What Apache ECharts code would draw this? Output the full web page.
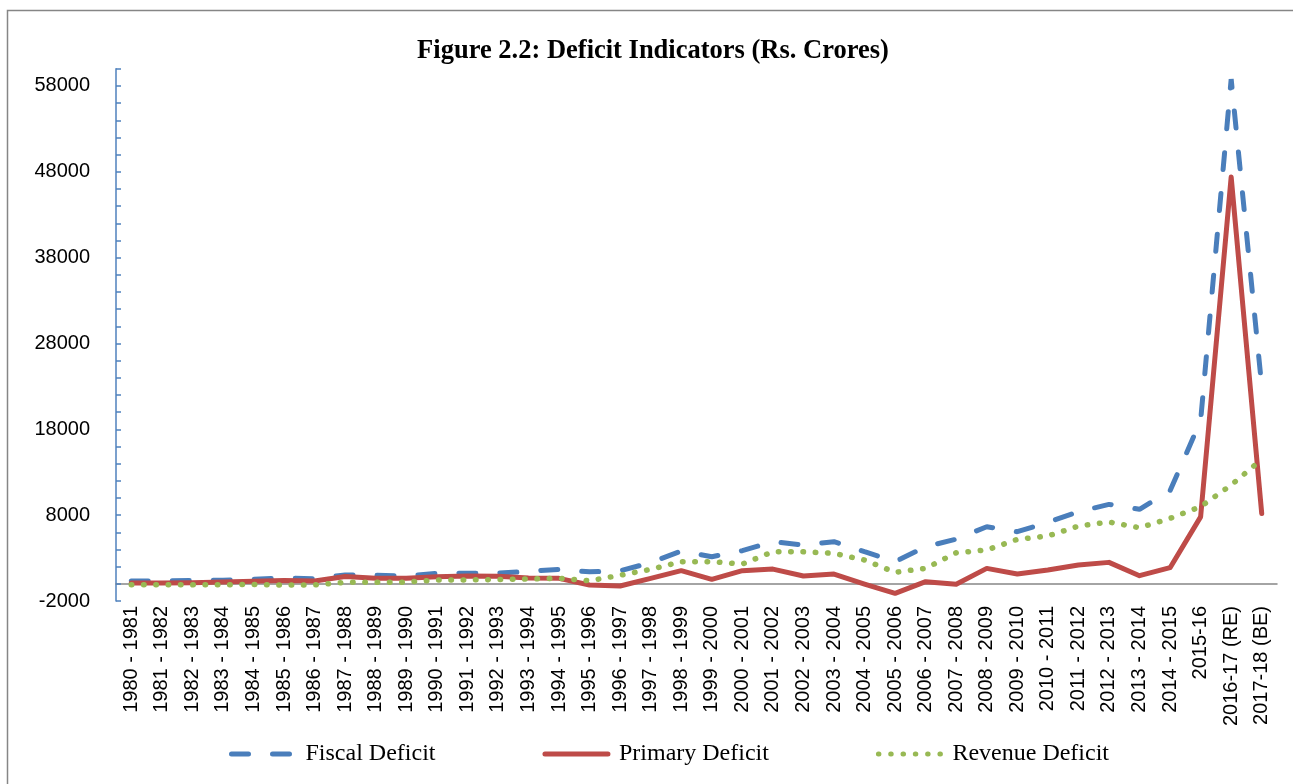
<!DOCTYPE html>
<html><head><meta charset="utf-8">
<script src="https://cdn.jsdelivr.net/npm/echarts@6/dist/echarts.min.js"></script>
<style>html,body{margin:0;padding:0;background:#fff}#c{width:1293px;height:784px}</style>
</head><body><div id="c"></div>
<script>
const categories = ['1980 - 1981','1981 - 1982','1982 - 1983','1983 - 1984','1984 - 1985','1985 - 1986','1986 - 1987','1987 - 1988','1988 - 1989','1989 - 1990','1990 - 1991','1991 - 1992','1992 - 1993','1993 - 1994','1994 - 1995','1995 - 1996','1996 - 1997','1997 - 1998','1998 - 1999','1999 - 2000','2000 - 2001','2001 - 2002','2002 - 2003','2003 - 2004','2004 - 2005','2005 - 2006','2006 - 2007','2007 - 2008','2008 - 2009','2009 - 2010','2010 - 2011','2011 - 2012','2012 - 2013','2013 - 2014','2014 - 2015','2015-16','2016-17 (RE)','2017-18 (BE)'];
const fiscalDeficit = [330,350,400,420,520,670,600,1030,1000,920,1220,1230,1250,1450,1690,1400,1530,2460,3820,3160,3860,4910,4520,4910,3740,2580,4330,5200,6650,6070,7160,8400,9260,8680,10850,19000,58800,23000];
const primaryDeficit = [100,100,120,200,290,400,330,850,640,660,830,900,880,680,640,-140,-250,640,1530,520,1530,1720,910,1140,-20,-1110,250,-50,1800,1140,1610,2190,2500,950,1880,7800,47400,8200];
const revenueDeficit = [-100,-100,-120,-100,-80,-150,-120,170,170,200,440,460,500,560,640,360,1000,1690,2580,2580,2300,3740,3740,3550,2770,1340,1800,3620,3940,5180,5570,6730,7200,6540,7630,8990,11510,14500];
const yTickLabels = [-2000,8000,18000,28000,38000,48000,58000];
const yTickMarks = [-2000,0,2000,4000,6000,8000,10000,12000,14000,16000,18000,20000,22000,24000,26000,28000,30000,32000,34000,36000,38000,40000,42000,44000,46000,48000,50000,52000,54000,56000,58000,60000];

const chart = echarts.init(document.getElementById('c'));
chart.setOption({
  animation: false,
  backgroundColor: '#fff',
  graphic: [{type:'rect', shape:{x:7.5,y:10.5,width:1300,height:800}, style:{fill:'none',stroke:'#868686',lineWidth:1.5}, silent:true}],
  title: {text:'Figure 2.2: Deficit Indicators (Rs. Crores)', left:648, textAlign:'center', top:33,
    textStyle:{fontFamily:'Liberation Serif', fontWeight:'bold', fontSize:26.5, color:'#000'}},
  grid: {left:116, right:16, top:68.8, bottom:183, containLabel:false},
  xAxis: [
    {type:'category', data:categories, boundaryGap:true, position:'bottom',
     axisLine:{show:false, onZero:false}, axisTick:{show:false},
     axisLabel:{rotate:90, interval:0, fontSize:20, fontFamily:'Liberation Sans', color:'#000', margin:5}},
    {type:'category', data:categories, boundaryGap:true, position:'bottom',
     axisLine:{show:true, onZero:true, lineStyle:{color:'#868686', width:1.5}}, axisTick:{show:false}, axisLabel:{show:false}}
  ],
  yAxis: {type:'value', min:-2000, max:60000,
    axisLine:{show:true, lineStyle:{color:'#4F81BD', width:1.5}},
    axisTick:{show:true, inside:true, length:5, customValues:yTickMarks, lineStyle:{color:'#4F81BD', width:1.5}},
    axisLabel:{customValues:yTickLabels, fontSize:20, fontFamily:'Liberation Sans', color:'#000', margin:26,
      formatter: function (v) { return String(v); }},
    splitLine:{show:false}},
  legend: {left:224, top:737, itemWidth:63, itemHeight:10, itemGap:107,
    itemStyle:{opacity:0},
    lineStyle:{width:5},
    textStyle:{fontFamily:'Liberation Serif', fontSize:24, color:'#000', padding:[0,0,0,6]},
    data:['Fiscal Deficit','Primary Deficit','Revenue Deficit']},
  series: [
    {name:'Fiscal Deficit', type:'line', data:fiscalDeficit, symbol:'none', xAxisIndex:0,
     lineStyle:{color:'#4A7EBB', width:5, type:[17,24], cap:'round'}, itemStyle:{color:'#4A7EBB'}},
    {name:'Primary Deficit', type:'line', data:primaryDeficit, symbol:'none', xAxisIndex:0,
     lineStyle:{color:'#BE4B48', width:5, cap:'round', join:'round'}, itemStyle:{color:'#BE4B48'}},
    {name:'Revenue Deficit', type:'line', data:revenueDeficit, symbol:'none', xAxisIndex:0,
     lineStyle:{color:'#98B954', width:5.5, type:[0.5,11.8], cap:'round'}, itemStyle:{color:'#98B954'}}
  ]
});
</script></body></html>
